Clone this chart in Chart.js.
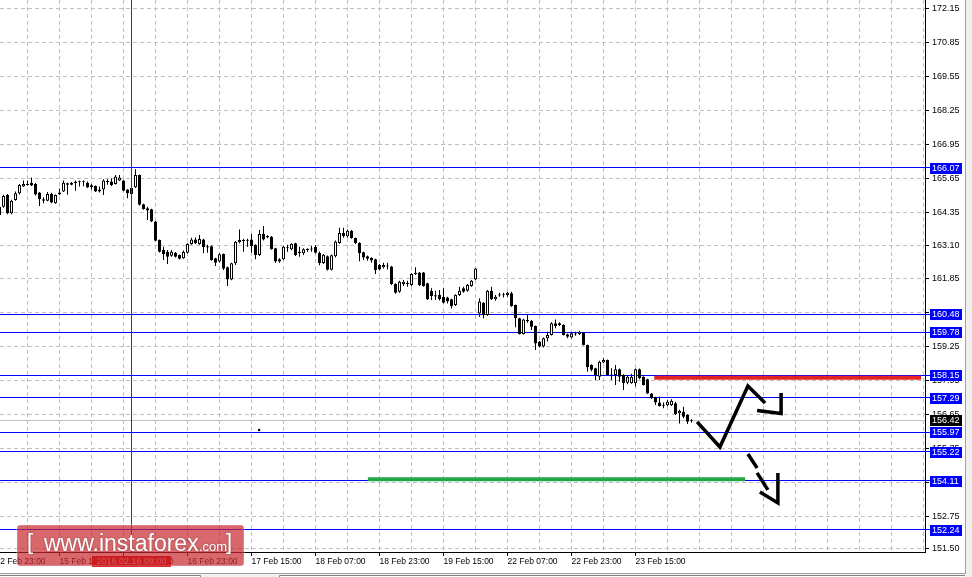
<!DOCTYPE html>
<html>
<head>
<meta charset="utf-8">
<script src="https://cdn.jsdelivr.net/npm/chart.js@4.4.0/dist/chart.umd.min.js"></script>
<style>
  html, body { margin: 0; padding: 0; background: #fff; }
  #wrap { width: 972px; height: 577px; }
</style>
</head>
<body>
<div id="wrap"><canvas id="c" width="972" height="577"></canvas></div>
<script>
// ── Data (H1 bars, index 0 = 15 Feb 01:00) ───────────────────────────────────
const FIRST_BAR = -1;

const opens = [
  164.59, 164.59, 165.04, 164.34, 164.85, 165.10, 165.36, 165.42, 165.51, 165.46,
  165.13, 164.87, 164.82, 165.08, 164.72, 165.07, 165.17, 165.49, 165.43, 165.50,
  165.52, 165.56, 165.51, 165.41, 165.38, 165.17, 165.25, 165.57, 165.55, 165.46,
  165.59, 165.59, 165.25, 165.30, 165.33, 165.80, 164.68, 164.53, 164.49, 164.02,
  163.32, 162.93, 162.87, 162.71, 162.83, 162.74, 162.62, 162.83, 163.16, 163.34,
  163.16, 163.34, 163.08, 163.08, 162.62, 162.49, 162.78, 162.27, 161.81, 162.43,
  163.23, 163.32, 163.29, 163.34, 163.13, 162.74, 163.55, 163.42, 163.44, 163.00,
  162.49, 162.58, 163.04, 162.96, 163.19, 162.87, 162.81, 162.93, 162.95, 163.05,
  162.82, 162.44, 162.69, 162.18, 162.69, 163.20, 163.58, 163.46, 163.67, 163.39,
  163.20, 162.85, 162.69, 162.64, 162.58, 162.36, 162.27, 162.34, 162.30, 161.63,
  161.34, 161.63, 161.67, 161.60, 162.02, 162.07, 162.07, 161.66, 161.38, 161.20,
  161.21, 161.15, 161.12, 161.05, 160.83, 161.21, 161.47, 161.38, 161.56, 161.81,
  160.51, 160.92, 160.45, 161.38, 161.05, 161.19, 161.20, 161.21, 161.28, 160.83,
  160.32, 159.72, 160.22, 160.23, 160.03, 159.43, 159.24, 159.56, 159.68, 160.13,
  160.07, 160.07, 159.71, 159.59, 159.74, 159.72, 159.77, 159.30, 158.54, 158.41,
  158.09, 158.63, 158.73, 158.17, 158.15, 158.37, 158.15, 157.86, 157.84, 157.84,
  158.37, 158.09, 157.99, 157.45, 157.30, 157.10, 157.02, 157.00, 157.00, 157.07,
  156.69, 156.75, 156.62, 156.40
];
const highs = [
  164.62, 165.05, 165.08, 164.86, 165.17, 165.46, 165.59, 165.59, 165.71, 165.50,
  165.15, 164.95, 165.15, 165.12, 165.06, 165.29, 165.59, 165.51, 165.53, 165.59,
  165.59, 165.59, 165.55, 165.46, 165.40, 165.36, 165.64, 165.64, 165.68, 165.80,
  165.80, 165.62, 165.26, 165.31, 166.02, 165.82, 164.70, 164.59, 164.51, 164.04,
  163.34, 163.06, 162.93, 162.93, 162.86, 162.76, 162.91, 163.19, 163.40, 163.41,
  163.51, 163.36, 163.13, 163.11, 162.64, 162.81, 162.80, 162.30, 162.45, 163.28,
  163.72, 163.36, 163.36, 163.55, 163.15, 163.70, 163.85, 163.50, 163.47, 163.02,
  162.62, 163.09, 163.13, 163.19, 163.21, 163.06, 163.00, 163.00, 163.09, 163.12,
  162.88, 162.78, 162.72, 162.76, 163.30, 163.78, 163.78, 163.72, 163.70, 163.41,
  163.23, 162.87, 162.72, 162.66, 162.60, 162.40, 162.45, 162.45, 162.32, 161.66,
  161.76, 161.79, 161.76, 162.04, 162.27, 162.09, 162.09, 161.68, 161.47, 161.38,
  161.40, 161.47, 161.15, 161.07, 161.24, 161.53, 161.53, 161.63, 161.79, 162.25,
  161.09, 160.95, 161.40, 161.53, 161.21, 161.30, 161.30, 161.34, 161.34, 160.85,
  160.34, 160.30, 160.45, 160.26, 160.05, 159.45, 159.59, 159.81, 160.17, 160.28,
  160.17, 160.09, 159.73, 159.79, 159.81, 159.85, 159.79, 159.32, 158.56, 158.43,
  158.70, 158.79, 158.75, 158.41, 158.54, 158.40, 158.18, 158.15, 158.20, 158.40,
  158.40, 158.11, 158.01, 157.47, 157.32, 157.33, 157.10, 157.20, 157.23, 157.13,
  156.82, 156.94, 156.65, 156.46
];
const lows = [
  164.20, 164.55, 164.30, 164.30, 164.82, 165.06, 165.34, 165.40, 165.38, 165.02,
  164.62, 164.72, 164.80, 164.72, 164.70, 165.04, 165.15, 165.05, 165.41, 165.20,
  165.36, 165.37, 165.30, 165.25, 165.15, 165.13, 165.04, 165.43, 165.38, 165.44,
  165.57, 165.18, 164.91, 165.05, 165.30, 164.64, 164.47, 164.08, 164.00, 163.27,
  162.84, 162.55, 162.40, 162.68, 162.65, 162.57, 162.60, 162.80, 163.13, 163.16,
  163.13, 162.81, 162.83, 162.52, 162.32, 162.46, 162.17, 161.56, 161.78, 162.36,
  163.19, 162.87, 163.06, 162.83, 162.58, 162.70, 163.30, 163.38, 162.94, 162.45,
  162.45, 162.55, 162.87, 162.92, 162.70, 162.68, 162.74, 162.87, 162.87, 162.80,
  162.35, 162.40, 162.15, 162.15, 162.65, 163.17, 163.40, 163.40, 163.36, 163.15,
  162.50, 162.55, 162.52, 162.45, 162.02, 162.15, 162.23, 162.19, 161.60, 161.26,
  161.30, 161.56, 161.53, 161.55, 161.98, 161.55, 161.53, 161.02, 161.02, 161.02,
  161.00, 160.89, 160.89, 160.70, 160.79, 161.17, 161.30, 161.34, 161.53, 161.79,
  160.38, 160.32, 160.42, 161.02, 160.99, 161.15, 161.12, 161.15, 160.76, 159.98,
  159.70, 159.70, 160.15, 159.87, 159.11, 159.21, 159.21, 159.43, 159.66, 159.94,
  160.03, 159.66, 159.56, 159.56, 159.65, 159.68, 159.28, 158.28, 158.30, 157.96,
  157.96, 158.60, 158.13, 157.96, 157.77, 157.90, 157.58, 157.80, 157.82, 157.71,
  157.99, 157.75, 157.43, 157.24, 157.01, 156.95, 156.88, 156.97, 156.97, 156.62,
  156.30, 156.50, 156.28, 156.33
];
const closes = [
  164.27, 165.00, 164.34, 164.82, 165.10, 165.42, 165.46, 165.46, 165.40, 165.06,
  164.87, 164.82, 165.08, 164.75, 165.04, 165.13, 165.51, 165.43, 165.51, 165.54,
  165.56, 165.52, 165.32, 165.33, 165.17, 165.25, 165.59, 165.53, 165.42, 165.74,
  165.71, 165.20, 165.10, 165.07, 165.80, 164.66, 164.49, 164.44, 164.02, 163.29,
  162.87, 162.78, 162.68, 162.87, 162.68, 162.60, 162.86, 163.16, 163.34, 163.19,
  163.35, 163.04, 163.03, 162.55, 162.45, 162.77, 162.22, 161.81, 162.43, 163.25,
  163.32, 163.28, 163.33, 163.09, 162.74, 163.55, 163.34, 163.47, 162.96, 162.49,
  162.58, 163.06, 163.00, 163.17, 162.74, 162.82, 162.96, 162.97, 162.99, 162.83,
  162.44, 162.75, 162.18, 162.73, 163.26, 163.58, 163.46, 163.67, 163.39, 163.20,
  162.82, 162.65, 162.60, 162.53, 162.17, 162.19, 162.36, 162.30, 161.63, 161.30,
  161.72, 161.72, 161.63, 162.02, 162.06, 161.60, 161.56, 161.05, 161.17, 161.16,
  161.05, 160.92, 160.96, 160.79, 161.21, 161.38, 161.34, 161.60, 161.76, 162.23,
  160.96, 160.45, 161.38, 161.05, 161.15, 161.23, 161.24, 161.30, 160.79, 160.32,
  159.72, 160.28, 160.26, 160.00, 159.36, 159.24, 159.56, 159.68, 160.13, 160.03,
  160.13, 159.68, 159.62, 159.75, 159.70, 159.81, 159.30, 158.45, 158.35, 158.15,
  158.66, 158.73, 158.15, 158.13, 158.37, 158.09, 157.84, 158.09, 158.09, 158.37,
  158.03, 157.77, 157.45, 157.26, 157.10, 156.97, 156.98, 157.13, 157.17, 156.66,
  156.79, 156.56, 156.37, 156.44
];

// ── Axes ─────────────────────────────────────────────────────────────────────
const X_MIN = -0.875, X_MAX = 230.375;
const Y_MIN = 151.385, Y_MAX = 172.494;

const yTicks = [172.15, 170.85, 169.55, 168.25, 166.95, 165.65, 164.35, 163.10,
                161.85, 160.55, 159.25, 157.95, 156.65, 155.35, 154.05, 152.75, 151.50];
const xLabelBars = [-2, 14, 30, 46, 62, 78, 94, 110, 126, 142, 158];
const xLabels = ['12 Feb 23:00', '15 Feb 15:00', '16 Feb 07:00', '16 Feb 23:00',
                 '17 Feb 15:00', '18 Feb 07:00', '18 Feb 23:00', '19 Feb 15:00',
                 '22 Feb 07:00', '22 Feb 23:00', '23 Feb 15:00'];
const xGridBars = Array.from({ length: 30 }, (_, k) => -2 + 8 * k);

// ── Levels & drawings ────────────────────────────────────────────────────────
const levelPrices = [166.07, 160.48, 159.78, 158.15, 157.29, 155.97, 155.22, 154.11, 152.24];
const lastPrice   = 156.42;
const markerBar   = 32;
const markerLabel = '2016.02.16 09:00';

const redZone   = [{ x: 162.7, y: 158.05 }, { x: 229.4, y: 158.05 }];
const greenZone = [{ x: 91.1,  y: 154.17 }, { x: 185.4, y: 154.17 }];
const upPath    = [{ x: 173.4, y: 156.36 }, { x: 179.1, y: 155.40 },
                   { x: 186.1, y: 157.73 }, { x: 190.4, y: 157.08 }];
const upHead    = [{ x: 188.4, y: 156.80 }, { x: 194.4, y: 156.68 }, { x: 194.4, y: 157.47 }];
const downDash1 = [{ x: 186.1, y: 155.13 }, { x: 188.4, y: 154.60 }];
const downDash2 = [{ x: 188.4, y: 154.41 }, { x: 191.1, y: 153.76 }];
const downHead  = [{ x: 189.1, y: 153.68 }, { x: 193.6, y: 153.26 }, { x: 193.6, y: 154.41 }];
const strayDot  = [{ x: 63.9, y: 156.05 }];

const FONT = '"Liberation Sans", Arial, sans-serif';

// ── Candles as floating bars ─────────────────────────────────────────────────
const bodies = opens.map((o, i) => ({ x: FIRST_BAR + i, y: [o, closes[i]] }));
const wicks  = lows.map((l, i) => ({ x: FIRST_BAR + i, y: [l, highs[i]] }));
const bodyFill = opens.map((o, i) => closes[i] > o ? '#ffffff' : '#000000');

function drawing(data, width, color) {
  return {
    type: 'line', data, borderColor: color, borderWidth: width,
    pointRadius: 0, fill: false, tension: 0, order: 0,
    borderCapStyle: 'butt', borderJoinStyle: 'miter',
  };
}

// ── Overlay: level lines, marker, price tags, watermark ──────────────────────
const overlay = {
  id: 'overlay',
  beforeDraw(chart) {
    const c = chart.ctx;
    c.save();
    c.fillStyle = '#fff';
    c.fillRect(0, 0, chart.width, chart.height);
    c.restore();
  },
  beforeDatasetsDraw(chart) {
    const { ctx, chartArea: a, scales: { y } } = chart;
    ctx.save();
    ctx.lineWidth = 1;
    let py = Math.floor(y.getPixelForValue(lastPrice)) + 0.5;
    ctx.strokeStyle = '#c0c0c0';
    ctx.beginPath(); ctx.moveTo(a.left, py); ctx.lineTo(a.right, py); ctx.stroke();
    ctx.strokeStyle = '#0000ff';
    levelPrices.forEach(p => {
      py = Math.floor(y.getPixelForValue(p)) + 0.5;
      ctx.beginPath(); ctx.moveTo(a.left, py); ctx.lineTo(a.right + 5, py); ctx.stroke();
    });
    ctx.restore();
  },
  afterDatasetsDraw(chart) {
    const { ctx, chartArea: a, scales: { x } } = chart;
    const px = Math.floor(x.getPixelForValue(markerBar)) + 0.5;
    ctx.save();
    ctx.strokeStyle = '#d40000';
    ctx.lineWidth = 1;
    ctx.beginPath(); ctx.moveTo(px, a.top); ctx.lineTo(px, a.bottom); ctx.stroke();
    ctx.restore();
  },
  afterDraw(chart) {
    const { ctx, chartArea: a, scales: { x, y } } = chart;
    ctx.save();
    ctx.textAlign = 'left';
    ctx.textBaseline = 'middle';

    // price tags on the right scale
    const tag = (p, bg) => {
      const top = Math.round(y.getPixelForValue(p)) - 5;
      ctx.fillStyle = bg;
      ctx.fillRect(a.right + 5, top, 32, 11);
      ctx.fillStyle = '#fff';
      ctx.font = '9px ' + FONT;
      ctx.fillText(p.toFixed(2), a.right + 7, top + 5.5);
    };
    levelPrices.forEach(p => tag(p, '#0000ff'));
    tag(lastPrice, '#000');

    // marker time label
    const mx = x.getPixelForValue(markerBar);
    ctx.fillStyle = '#d40000';
    ctx.fillRect(Math.round(mx - 39.5), a.bottom + 4, 79, 11);
    ctx.fillStyle = '#f3c8c8';
    ctx.font = '9px ' + FONT;
    ctx.textAlign = 'center';
    ctx.fillText(markerLabel, mx, a.bottom + 10);

    // watermark
    ctx.fillStyle = 'rgba(200,40,45,0.70)';
    ctx.beginPath();
    ctx.roundRect(17, 525, 227, 41, 3);
    ctx.fill();
    ctx.strokeStyle = 'rgba(255,255,255,0.35)';
    ctx.stroke();
    ctx.fillStyle = '#fff';
    ctx.textAlign = 'left';
    ctx.textBaseline = 'alphabetic';
    ctx.shadowColor = 'rgba(0,0,0,0.35)';
    ctx.shadowBlur = 2;
    ctx.font = '22px ' + FONT;
    ctx.fillText('[', 27, 549);
    ctx.fillText(']', 226, 549);
    ctx.font = '23px ' + FONT;
    ctx.fillText('www.instaforex', 44, 551);
    ctx.font = '13px ' + FONT;
    ctx.fillText('.com', 199, 551);
    ctx.shadowBlur = 0;
    ctx.shadowColor = 'transparent';

    // neighbouring window strip and tab bar
    ctx.fillStyle = '#f0f0f0';
    ctx.fillRect(966, 0, 6, 574);
    ctx.fillRect(0, 574, 972, 3);
    ctx.strokeStyle = '#a0a0a0';
    ctx.beginPath(); ctx.moveTo(965.5, 0); ctx.lineTo(965.5, 574); ctx.stroke();
    ctx.beginPath(); ctx.moveTo(0, 573.5); ctx.lineTo(966, 573.5); ctx.stroke();
    ctx.fillStyle = '#fff';
    ctx.fillRect(0, 576, 200, 1);
    ctx.fillRect(279, 576, 686, 1);
    ctx.strokeStyle = '#808080';
    ctx.beginPath();
    ctx.moveTo(0, 575.5); ctx.lineTo(200.5, 575.5); ctx.lineTo(200.5, 577);
    ctx.moveTo(279.5, 577); ctx.lineTo(279.5, 575.5); ctx.lineTo(965, 575.5);
    ctx.stroke();
    ctx.restore();
  },
};

// ── Chart ────────────────────────────────────────────────────────────────────
new Chart(document.getElementById('c'), {
  type: 'bar',
  data: {
    datasets: [
      {
        data: bodies, backgroundColor: bodyFill, borderColor: '#000', borderWidth: 1,
        borderSkipped: false, grouped: false, barThickness: 3, inflateAmount: 0, order: 1,
      },
      {
        data: wicks, backgroundColor: '#000', borderWidth: 0,
        grouped: false, barThickness: 1, inflateAmount: 0, order: 2,
      },
      drawing(redZone, 4, '#e62323'),
      drawing(greenZone, 4, '#23a648'),
      drawing(upPath, 3.5, '#000'),
      drawing(upHead, 3.5, '#000'),
      drawing(downDash1, 3.5, '#000'),
      drawing(downDash2, 3.5, '#000'),
      drawing(downHead, 3.5, '#000'),
      { type: 'line', data: strayDot, showLine: false, pointRadius: 1.3,
        pointBackgroundColor: '#000', pointBorderWidth: 0, order: 0 },
    ],
  },
  options: {
    responsive: false,
    animation: false,
    devicePixelRatio: 1,
    events: [],
    layout: { padding: 0, autoPadding: false },
    plugins: { legend: { display: false }, tooltip: { enabled: false } },
    scales: {
      x: {
        type: 'linear', min: X_MIN, max: X_MAX, bounds: 'data', offset: false, position: 'bottom',
        afterBuildTicks: s => { s.ticks = xGridBars.map(v => ({ value: v })); },
        afterFit: s => { s.height = 25; s.paddingLeft = 0; s.paddingRight = 0; },
        grid: {
          offset: false, color: '#c0c0c0', lineWidth: 1, tickLength: 4,
          tickColor: c => (c.tick && xLabelBars.includes(c.tick.value)) ? '#000' : 'rgba(0,0,0,0)',
        },
        border: { display: true, color: '#000', width: 1, dash: [4, 3] },
        ticks: {
          autoSkip: false, maxRotation: 0, minRotation: 0, align: 'start', padding: 1,
          color: '#000', font: { family: FONT, size: 8.5 },
          callback: v => { const k = xLabelBars.indexOf(v); return k < 0 ? '' : xLabels[k]; },
        },
      },
      y: {
        type: 'linear', position: 'right', min: Y_MIN, max: Y_MAX, bounds: 'data', beginAtZero: false,
        afterBuildTicks: s => { s.ticks = yTicks.map(v => ({ value: v })); },
        afterFit: s => { s.width = 47; s.paddingTop = 0; s.paddingBottom = 0; },
        grid: { color: '#c0c0c0', lineWidth: 1, tickLength: 4, tickColor: '#000' },
        border: { display: true, color: '#000', width: 1, dash: [4, 3] },
        ticks: {
          padding: 3, color: '#000', font: { family: FONT, size: 9 },
          callback: v => v.toFixed(2),
        },
      },
    },
  },
  plugins: [overlay],
});
</script>
</body>
</html>
